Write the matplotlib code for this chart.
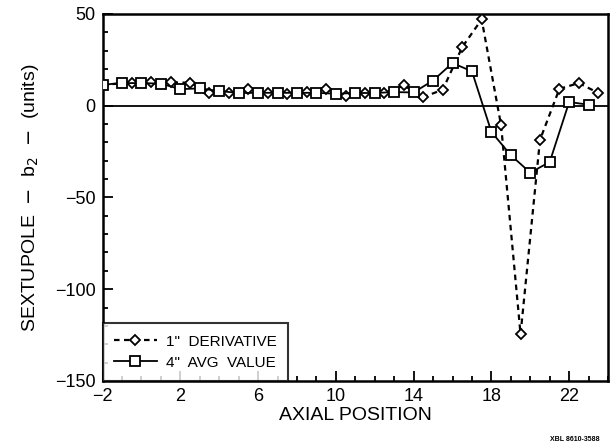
import numpy as np
import matplotlib.pyplot as plt
from matplotlib.ticker import MultipleLocator

# 1" derivative (diamonds)
deriv_x = [-2, -0.5, 0.5, 1.5, 2.5, 3.5, 4.5, 5.5, 6.5, 7.5, 8.5, 9.5, 10.5, 11.5,
           12.5, 13.5, 14.5, 15.5, 16.5, 17.5, 18.5, 19.5, 20.5, 21.5, 22.5, 23.5]
deriv_y = [11.4, 12.5, 12.8, 12.7, 12.5, 7.0, 6.9, 9.1, 7.0, 6.2, 7.2, 9.1, 5.0, 6.9,
           6.9, 11.0, 4.7, 8.7, 31.9, 47.0, -10.8, -124.5, -18.6, 9.2, 12.3, 6.9]

# 4" avg value (squares)
avg_x = list(range(-2, 24))
avg_y = [11.4, 12.3, 12.3, 12.0, 9.0, 9.4, 8.0, 6.9, 7.0, 7.0, 7.0, 7.0, 6.5, 6.9,
         6.9, 7.4, 7.2, 13.7, 23.2, 18.7, -14.3, -27.0, -36.5, -30.7, 2.0, 0.5]

x_ticks = [-2, 2, 6, 10, 14, 18, 22]
y_ticks = [-150, -100, -50, 0, 50]

plt.rcParams['font.family'] = ['Liberation Sans', 'DejaVu Sans']

fig = plt.figure(figsize=(6.15, 4.48), dpi=100)
ax = fig.add_axes([0.1667, 0.1496, 0.822, 0.8194])

ax.axhline(0, color='black', lw=1.3, zorder=1)

ax.plot(deriv_x, deriv_y, color='black', lw=1.6, ls=(0, (2.5, 2)),
        marker='D', ms=5, mfc='white', mec='black', mew=1.3,
        label='1"  DERIVATIVE', zorder=3)
ax.plot(avg_x, avg_y, color='black', lw=1.3, ls='-',
        marker='s', ms=6.5, mfc='white', mec='black', mew=1.3,
        label='4"  AVG  VALUE', zorder=3)

ax.set_xlim(-2, 24)
ax.set_ylim(-150, 50)
ax.set_xticks(x_ticks)
ax.set_yticks(y_ticks)
ax.xaxis.set_minor_locator(MultipleLocator(1))
ax.yaxis.set_minor_locator(MultipleLocator(10))
ax.tick_params(which='both', direction='in', top=False, right=False, width=1.3)
ax.tick_params(which='major', length=7, labelsize=13, pad=5)
ax.tick_params(which='minor', length=3.5)
for s in ax.spines.values():
    s.set_linewidth(1.8)

ax.set_xlabel('AXIAL POSITION', fontsize=14, labelpad=1.5)
ax.set_ylabel(r'SEXTUPOLE  $-$  b$_2$  $-$  (units)', fontsize=14, labelpad=10)

leg = ax.legend(loc='lower left', fontsize=11, frameon=True, fancybox=False,
                borderaxespad=0, handlelength=2.8, handletextpad=0.6,
                borderpad=0.75, labelspacing=0.45)
leg.get_frame().set_edgecolor('black')
leg.get_frame().set_linewidth(1.5)

fig.text(0.975, 0.012, 'XBL 8610-3588', fontsize=5, fontweight='bold', ha='right', va='bottom')

fig.savefig('out.png', dpi=100)
